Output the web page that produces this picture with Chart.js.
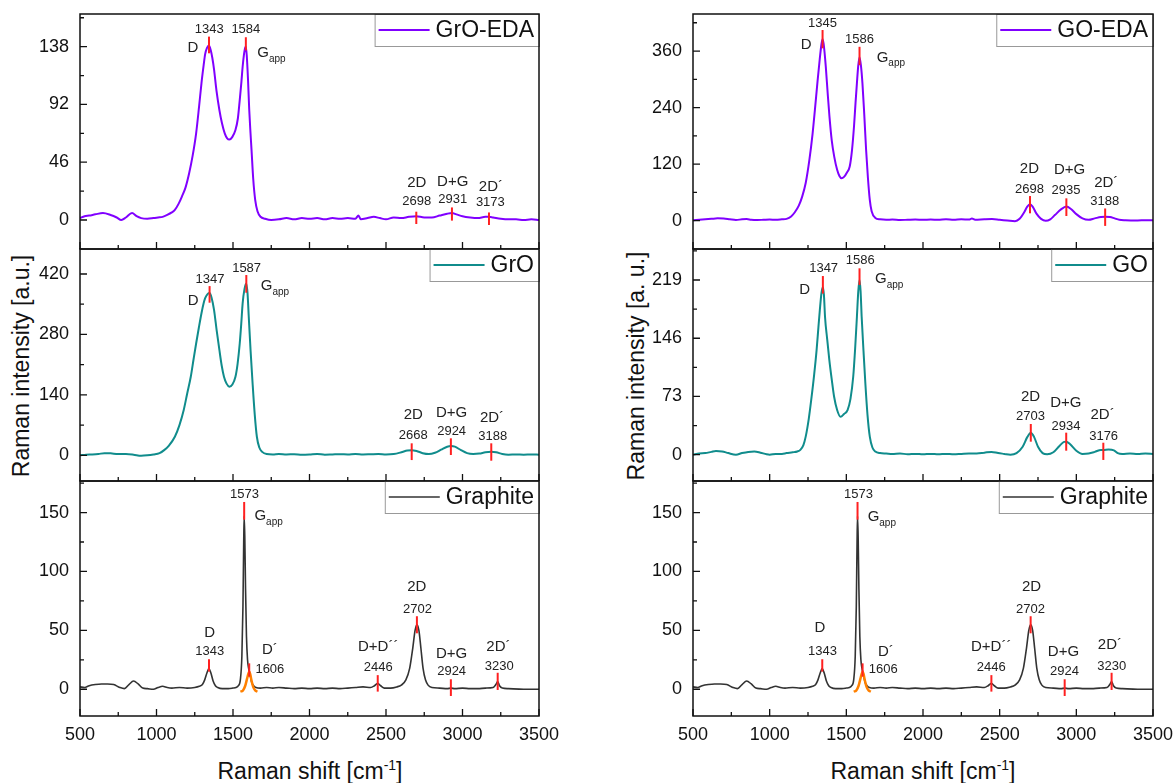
<!DOCTYPE html>
<html>
<head>
<meta charset="utf-8">
<script src="https://cdn.jsdelivr.net/npm/chart.js@4.4.1/dist/chart.umd.min.js"></script>
<style>
body { margin: 0; background: #fff; width: 1174px; height: 783px; position: relative; overflow: hidden;
       font-family: "Liberation Sans", Arial, sans-serif; color: #111; }
canvas { position: absolute; }
.ytitle { position: absolute; font-size: 23px; white-space: nowrap; transform: translate(-50%, -50%) rotate(-90deg); }
.xtitle { position: absolute; font-size: 23px; white-space: nowrap; transform: translate(-50%, -50%); }
.xtitle sup { font-size: 14px; line-height: 0; vertical-align: 9px; }
</style>
</head>
<body>
<div class="ytitle" style="left:21px; top:366px;">Raman intensity [a.u.]</div>
<div class="ytitle" style="left:636px; top:366px;">Raman intensity [a. u.]</div>
<div class="xtitle" style="left:310px; top:771px;">Raman shift [cm<sup>-1</sup>]</div>
<div class="xtitle" style="left:923px; top:771px;">Raman shift [cm<sup>-1</sup>]</div>
<script>
const FONT = '"Liberation Sans", Arial, sans-serif';

// x axis (Raman shift, cm-1)
const xTicks = [500, 1000, 1500, 2000, 2500, 3000, 3500];
const xMinor = [750, 1250, 1750, 2250, 2750, 3250];

// GrO-EDA spectrum
const groEdaShift = [500,530,560,600,650,700,740,770,800,840,870,900,940,980,1010,1040,1070,1100,1120,1145,1166,1190,1213,1236,1259,1278,1294,1308,1318,1330,1343,1355,1365,1376,1392,1411,1428,1446,1462,1476,1495,1516,1532,1544,1555,1563,1572,1579,1584,1590,1598,1606,1614,1621,1632,1645,1660,1680,1710,1750,1800,1850,1900,1950,2000,2050,2100,2150,2200,2250,2300,2320,2335,2380,2420,2460,2500,2550,2600,2650,2698,2750,2800,2850,2900,2931,2960,3000,3050,3100,3150,3173,3200,3250,3300,3350,3400,3450,3500];
const groEdaInt = [1.5,3,3.5,4.5,5.5,4,2,0,2,5.5,3,1.5,1,1.5,2,2.5,4,6,8,13,18.6,26,37,51,69,90,109,123,132,137,139,135,129,120,103,87.6,77,69,65,64,66,71.6,81,95.5,110,122,132,137,138,131,112,88,70,56,33,16,7,2.6,1,0,0.5,1.5,0.5,1.5,1,1.5,0.5,1.5,1,1.5,1,3.5,0.5,1.5,2.5,1.5,0.5,2,1.5,2.5,3,2,2,3.5,5,5.5,4.5,3,2,1.5,2.5,2.5,2,1,0.5,0.5,0,0.5,0];
const groEdaTicks = [0, 46, 92, 138];
const groEdaMinor = [23, 69, 115, 161];
const groEdaPeakX = [1343, 1584, 2698, 2931, 3173];
const groEdaPeakLo = [132.7, 135, -3.2, -0.5, -4];
const groEdaPeakHi = [146, 145.5, 6.6, 10, 6];
const groEdaTags = [
  ['1343', 1345, 151.8, 'n'], ['1584', 1584, 151.8, 'n'], ['D', 1238, 136.7, 'l'], ['G', 1697, 133, 'g'],
  ['2D', 2701, 29.2, 'l'], ['2698', 2701, 14.6, 'n'], ['D+G', 2936, 30.5, 'l'], ['2931', 2936, 16.5, 'n'],
  ['2D\u00b4', 3186, 26.5, 'l'], ['3173', 3182, 13.8, 'n']
];

// GrO spectrum
const groShift = [500,540,580,620,660,700,750,800,850,900,940,980,1020,1050,1080,1120,1150,1178,1200,1224,1242,1259,1277,1294,1308,1318,1335,1347,1360,1376,1393,1411,1426,1441,1458,1476,1496,1516,1530,1544,1554,1563,1575,1587,1595,1603,1615,1628,1642,1656,1672,1691,1720,1760,1800,1850,1900,1950,2000,2050,2100,2150,2200,2250,2300,2350,2400,2450,2500,2550,2600,2640,2668,2700,2740,2780,2820,2860,2900,2924,2950,2990,3030,3070,3110,3150,3188,3220,3260,3300,3350,3400,3450,3500];
const groInt = [0,1.5,2,3,5,4.5,3,3,1.5,-1,0,2,5,12,22,43,70,105,142,182,222,259,296,329,352,364,374,376,365,337,290,244,208,182,166,159,164,182,212,259,305,352,385,398,375,321,242,167,95,43,18,8,3,2,3,2,2.5,1.5,2,3,1.5,2,2.5,2,3,2,2.5,3,2,3,7,11,12,10,5,3,6,13,20,21.5,20,12,5,3,4,7,8,7,3,1.5,2,1.5,2,1.5];
const groTicks = [0, 140, 280, 420];
const groMinor = [70, 210, 350];
const groPeakX = [1347, 1587, 2668, 2924, 3188];
const groPeakLo = [353.5, 376.6, -11, 0.7, -12.5];
const groPeakHi = [392, 417.6, 27.8, 39.4, 27.8];
const groTags = [
  ['1347', 1350, 407.7, 'n'], ['1587', 1589, 433, 'n'], ['D', 1240, 358, 'l'], ['G', 1720, 392, 'g'],
  ['2D', 2678, 93.4, 'l'], ['2668', 2678, 47, 'n'], ['D+G', 2929, 97.3, 'l'], ['2924', 2929, 54.7, 'n'],
  ['2D\u00b4', 3193, 85.7, 'l'], ['3188', 3198, 43, 'n']
];

// Graphite spectrum (same sample in both columns)
const graphiteShift = [500,530,560,600,640,680,720,760,790,820,850,880,910,940,980,1010,1040,1070,1100,1150,1200,1250,1280,1300,1315,1330,1343,1355,1370,1385,1400,1430,1470,1500,1520,1535,1548,1558,1565,1570,1573,1577,1582,1588,1595,1603,1612,1622,1635,1650,1680,1720,1760,1800,1850,1900,1950,2000,2050,2100,2150,2200,2250,2300,2350,2400,2425,2446,2465,2490,2530,2570,2600,2630,2655,2675,2690,2702,2715,2728,2742,2758,2775,2800,2850,2900,2924,2950,3000,3050,3100,3150,3200,3218,3230,3242,3260,3300,3400,3500];
const graphiteInt = [2,1.5,3,4,4.5,4.5,4,1.5,0.5,4,7,4.5,1,0.5,0,1.5,2.5,1.5,1,1.5,1,1.5,2.5,4,8,14,17.5,14,7,3,1.5,0.5,0.5,1,1.5,3,8,28,70,125,147,130,85,45,25,17,12,6,3,1.5,1,1.5,1,1.5,1,0.5,1,0.5,1,0.5,1,0.5,1,1.5,2,1.5,3,5,3,1,1,2,3.5,8,18,35,50,55,50,35,18,8,3.5,1.5,1,0.5,1,0.5,1,0.5,0.5,1,1.5,4,6.5,3,1,0.5,0,0];
const dPrimeShift = [1548, 1565, 1580, 1592, 1600, 1606, 1612, 1620, 1632, 1645, 1660];
const dPrimeInt = [-2, -1, 3, 9, 13, 15, 13, 8, 2, -1, -2];
const graphiteTicks = [0, 50, 100, 150];
const graphiteMinor = [25, 75, 125, 175];
const graphitePeakX = [1573, 1343, 1606, 2446, 2702, 2924, 3230];
const graphitePeakLo = [144, 15, 10.7, -2, 47.5, -5.7, -0.6];
const graphitePeakHi = [159, 25.5, 22, 12, 62, 8.5, 14];
const graphiteTagsL = [
  ['1573', 1575, 165.8, 'n'], ['G', 1678, 147, 'g'], ['D', 1348, 47.5, 'l'], ['1343', 1348, 32, 'n'],
  ['D\u00b4', 1741, 33.4, 'l'], ['1606', 1741, 17, 'n'], ['D+D\u00b4\u00b4', 2449, 35.6, 'l'], ['2446', 2449, 18.7, 'n'],
  ['2D', 2701, 87, 'l'], ['2702', 2706, 68, 'n'], ['D+G', 2929, 30, 'l'], ['2924', 2929, 15, 'n'],
  ['2D\u00b4', 3235, 36, 'l'], ['3230', 3240, 19.8, 'n']
];
const graphiteTagsR = [
  ['1573', 1579, 165.8, 'n'], ['G', 1677, 146, 'g'], ['D', 1328, 51.8, 'l'], ['1343', 1345, 32, 'n'],
  ['D\u00b4', 1758, 32, 'l'], ['1606', 1741, 17, 'n'], ['D+D\u00b4\u00b4', 2445, 36, 'l'], ['2446', 2445, 18.7, 'n'],
  ['2D', 2708, 87, 'l'], ['2702', 2701, 68, 'n'], ['D+G', 2916, 32, 'l'], ['2924', 2923, 15, 'n'],
  ['2D\u00b4', 3219, 37.6, 'l'], ['3230', 3231, 19.8, 'n']
];

// GO-EDA spectrum
const goEdaShift = [500,540,580,620,660,700,740,780,820,850,880,920,960,1000,1040,1080,1110,1140,1164,1190,1211,1235,1259,1280,1295,1312,1326,1338,1345,1352,1366,1378,1390,1405,1421,1440,1455,1469,1485,1505,1522,1537,1550,1560,1569,1578,1586,1595,1605,1617,1629,1641,1653,1665,1689,1720,1760,1800,1850,1900,1950,2000,2050,2100,2150,2200,2250,2300,2319,2340,2400,2450,2500,2550,2600,2630,2660,2680,2698,2715,2740,2770,2800,2830,2860,2900,2935,2965,3000,3040,3080,3120,3160,3188,3220,3250,3280,3320,3400,3450,3500];
const goEdaInt = [1,2,3,4,5,4.5,3,1.5,3,3.5,2,1.5,2,2.5,2,3,4,9,18,32,50,80,129,185,235,295,341,375,385,375,327,272,221,170,136,108,95,90,93,103,115,150,200,250,292,330,347,330,292,225,150,90,44,20,6,3,2,2.5,1.5,2,2.5,2,2.5,2,3,2,3,2.5,4.5,2,3,3.5,2,0.5,-1,4,18,30,35,30,15,4,0,3,12,24,30,25,14,5,2,5,8,8.5,8,5,2,1,0.5,1,1];
const goEdaTicks = [0, 120, 240, 360];
const goEdaMinor = [60, 180, 300, 420];
const goEdaPeakX = [1345, 1586, 2698, 2935, 3188];
const goEdaPeakLo = [365.8, 330, 15.7, 10, -11];
const goEdaPeakHi = [404.6, 369, 52.4, 47.5, 26];
const goEdaTags = [
  ['1345', 1345, 419, 'n'], ['1586', 1586, 385, 'n'], ['D', 1238, 372.8, 'l'], ['G', 1736, 346, 'g'],
  ['2D', 2694, 109, 'l'], ['2698', 2694, 66.6, 'n'], ['D+G', 2956, 107.6, 'l'], ['2935', 2932, 63.7, 'n'],
  ['2D\u00b4', 3195, 80.6, 'l'], ['3188', 3185, 40, 'n']
];

// GO spectrum
const goShift = [500,540,580,620,650,690,730,780,820,860,900,940,980,1000,1040,1080,1110,1150,1180,1200,1220,1235,1255,1271,1290,1306,1318,1327,1338,1347,1354,1361,1375,1389,1405,1420,1440,1462,1485,1508,1527,1545,1558,1569,1578,1586,1593,1600,1612,1624,1638,1653,1670,1689,1720,1760,1800,1850,1900,1950,2000,2050,2100,2150,2200,2250,2300,2350,2400,2447,2490,2530,2570,2610,2650,2680,2703,2725,2750,2780,2810,2850,2890,2920,2934,2960,3000,3040,3080,3120,3160,3176,3210,3245,3270,3300,3350,3400,3450,3500];
const goInt = [0,1.5,2,3.5,4.5,4,2,0,2,3.5,4,2.5,0.5,0,1,1,2,3,4,6,12,22.6,45,68.6,100,131,160,181,203,210,200,173,145,119,94,73,56,47.6,51,56,70,98,135,173,205,219,205,173,130,89.5,50,22.6,9,4,2,1.5,1,1.5,0.5,1,0.5,1,0.5,1,0.5,1,1.5,1.5,2.5,3.5,2,1,0,2,10,22,27.5,22,10,2,0.5,3,11,16,16.3,13,5,1,1.5,3.5,6,6,6.5,5.5,2,1,1.5,1,1.5,1];
const goTicks = [0, 73, 146, 219];
const goMinor = [36.5, 109.5, 182.5, 255.5];
const goPeakX = [1347, 1586, 2703, 2934, 3176];
const goPeakLo = [202, 212.7, 16.3, 5, -6.6];
const goPeakHi = [224, 233.7, 38.5, 27.6, 15];
const goTags = [
  ['1347', 1352, 233.7, 'n'], ['1586', 1591, 244, 'n'], ['D', 1228, 207, 'l'], ['G', 1725, 220, 'g'],
  ['2D', 2701, 72.7, 'l'], ['2703', 2701, 47.6, 'n'], ['D+G', 2932, 64.4, 'l'], ['2934', 2932, 36, 'n'],
  ['2D\u00b4', 3171, 49.8, 'l'], ['3176', 3178, 23.4, 'n']
];

const PURPLE = '#8000ff';
const TEAL = '#108c8c';
const GREY = '#333333';
const ORANGE = '#ff8000';
const RED = '#ff2020';

const panels = [
  { box: [80, 14, 539, 249], range: [-23.1, 164], yTicks: groEdaTicks, yMinor: groEdaMinor,
    series: [{ x: groEdaShift, y: groEdaInt, color: PURPLE, width: 2 }],
    peakX: groEdaPeakX, peakLo: groEdaPeakLo, peakHi: groEdaPeakHi, tags: groEdaTags,
    legend: { text: 'GrO-EDA', color: PURPLE, width: 2 }, xLabels: false },
  { box: [80, 249, 539, 481], range: [-59.5, 477.9], yTicks: groTicks, yMinor: groMinor,
    series: [{ x: groShift, y: groInt, color: TEAL, width: 2 }],
    peakX: groPeakX, peakLo: groPeakLo, peakHi: groPeakHi, tags: groTags,
    legend: { text: 'GrO', color: TEAL, width: 2 }, xLabels: false },
  { box: [80, 481, 539, 716], range: [-22.7, 176.8], yTicks: graphiteTicks, yMinor: graphiteMinor,
    series: [{ x: graphiteShift, y: graphiteInt, color: GREY, width: 1.6 },
             { x: dPrimeShift, y: dPrimeInt, color: ORANGE, width: 2.5 }],
    peakX: graphitePeakX, peakLo: graphitePeakLo, peakHi: graphitePeakHi, tags: graphiteTagsL,
    legend: { text: 'Graphite', color: GREY, width: 1.6 }, xLabels: true },
  { box: [693, 14, 1153, 249], range: [-60, 438.6], yTicks: goEdaTicks, yMinor: goEdaMinor,
    series: [{ x: goEdaShift, y: goEdaInt, color: PURPLE, width: 2 }],
    peakX: goEdaPeakX, peakLo: goEdaPeakLo, peakHi: goEdaPeakHi, tags: goEdaTags,
    legend: { text: 'GO-EDA', color: PURPLE, width: 2 }, xLabels: false },
  { box: [693, 249, 1153, 481], range: [-33, 257.9], yTicks: goTicks, yMinor: goMinor,
    series: [{ x: goShift, y: goInt, color: TEAL, width: 2 }],
    peakX: goPeakX, peakLo: goPeakLo, peakHi: goPeakHi, tags: goTags,
    legend: { text: 'GO', color: TEAL, width: 2 }, xLabels: false },
  { box: [693, 481, 1153, 716], range: [-22.7, 176.8], yTicks: graphiteTicks, yMinor: graphiteMinor,
    series: [{ x: graphiteShift, y: graphiteInt, color: GREY, width: 1.6 },
             { x: dPrimeShift, y: dPrimeInt, color: ORANGE, width: 2.5 }],
    peakX: graphitePeakX, peakLo: graphitePeakLo, peakHi: graphitePeakHi, tags: graphiteTagsR,
    legend: { text: 'Graphite', color: GREY, width: 1.6 }, xLabels: true }
];

Chart.defaults.font.family = FONT;
Chart.defaults.color = '#111';

function framePlugin(p) {
  return {
    id: 'frame',
    afterDatasetsDraw(chart) {
      const { ctx, chartArea: a, scales: { x, y } } = chart;
      ctx.save();
      // inward ticks
      ctx.strokeStyle = '#111';
      ctx.lineWidth = 1.3;
      ctx.beginPath();
      xTicks.forEach(v => { const px = x.getPixelForValue(v); ctx.moveTo(px, a.bottom); ctx.lineTo(px, a.bottom - 7); });
      xMinor.forEach(v => { const px = x.getPixelForValue(v); ctx.moveTo(px, a.bottom); ctx.lineTo(px, a.bottom - 4); });
      p.yTicks.forEach(v => { const py = y.getPixelForValue(v); ctx.moveTo(a.left, py); ctx.lineTo(a.left + 7, py); });
      p.yMinor.forEach(v => { const py = y.getPixelForValue(v); ctx.moveTo(a.left, py); ctx.lineTo(a.left + 4, py); });
      ctx.stroke();

      // peak labels
      ctx.fillStyle = '#222';
      ctx.textBaseline = 'middle';
      p.tags.forEach(([txt, vx, vy, kind]) => {
        const px = x.getPixelForValue(vx), py = y.getPixelForValue(vy);
        if (kind === 'g') {
          ctx.font = '15px ' + FONT;
          const w = ctx.measureText('G').width;
          ctx.textAlign = 'left';
          ctx.fillText('G', px - w / 2, py);
          ctx.font = '10px ' + FONT;
          ctx.fillText('app', px + w / 2, py + 6);
        } else {
          ctx.font = (kind === 'n' ? 13 : 15) + 'px ' + FONT;
          ctx.textAlign = 'center';
          ctx.fillText(txt, px, py);
        }
      });

      // legend box
      const lg = p.legend;
      ctx.font = '23px ' + FONT;
      const tw = ctx.measureText(lg.text).width;
      const bw = 61 + tw + 5, bh = 32;
      const bx = a.right - bw, by = a.top;
      ctx.fillStyle = '#fff';
      ctx.fillRect(bx, by, bw, bh);
      ctx.strokeStyle = '#999';
      ctx.lineWidth = 1;
      ctx.strokeRect(bx + 0.5, by + 0.5, bw, bh);
      ctx.strokeStyle = lg.color;
      ctx.lineWidth = lg.width;
      ctx.beginPath();
      ctx.moveTo(bx + 4, by + bh / 2);
      ctx.lineTo(bx + 55, by + bh / 2);
      ctx.stroke();
      ctx.fillStyle = '#111';
      ctx.textAlign = 'left';
      ctx.fillText(lg.text, bx + 61, by + bh / 2 + 1);

      // frame
      ctx.strokeStyle = '#111';
      ctx.lineWidth = 1.5;
      ctx.strokeRect(a.left, a.top, a.right - a.left, a.bottom - a.top);
      ctx.restore();
    }
  };
}

function makePanel(p) {
  const [L, T, R, B] = p.box;
  const xh = p.xLabels ? 36 : 0;
  const padR = 26;
  const cv = document.createElement('canvas');
  cv.width = R - L + 80 + padR;
  cv.height = B - T + 4 + (p.xLabels ? xh : 4);
  cv.style.left = (L - 80) + 'px';
  cv.style.top = (T - 4) + 'px';
  document.body.appendChild(cv);

  const datasets = [];
  p.peakX.forEach((px, i) => {
    datasets.push({
      data: [{ x: px, y: p.peakLo[i] }, { x: px, y: p.peakHi[i] }],
      borderColor: RED, borderWidth: 2, pointRadius: 0, order: 0
    });
  });
  p.series.forEach((s, k) => {
    datasets.push({
      data: s.x.map((v, i) => ({ x: v, y: s.y[i] })),
      borderColor: s.color, borderWidth: s.width, pointRadius: 0,
      cubicInterpolationMode: 'monotone', order: 2 - k
    });
  });

  new Chart(cv, {
    type: 'line',
    data: { datasets },
    options: {
      responsive: false,
      animation: false,
      events: [],
      layout: { autoPadding: false, padding: { left: 0, top: 4, right: padR, bottom: p.xLabels ? 0 : 4 } },
      plugins: { legend: { display: false }, tooltip: { enabled: false } },
      scales: {
        x: {
          type: 'linear', min: 500, max: 3500,
          grid: { display: false, drawTicks: false },
          border: { display: false },
          ticks: { display: p.xLabels, padding: 8, font: { size: 18 }, color: '#111', callback: v => String(v) },
          afterBuildTicks: s => { s.ticks = xTicks.map(v => ({ value: v })); },
          afterFit: s => { s.height = xh; s.paddingLeft = 0; s.paddingRight = 0; }
        },
        y: {
          type: 'linear', min: p.range[0], max: p.range[1],
          grid: { display: false, drawTicks: false },
          border: { display: false },
          ticks: { padding: 11, font: { size: 18 }, color: '#111', callback: v => String(v) },
          afterBuildTicks: s => { s.ticks = p.yTicks.map(v => ({ value: v })); },
          afterFit: s => { s.width = 80; s.paddingTop = 0; s.paddingBottom = 0; }
        }
      }
    },
    plugins: [framePlugin(p)]
  });
}

panels.forEach(makePanel);
</script>
</body>
</html>
